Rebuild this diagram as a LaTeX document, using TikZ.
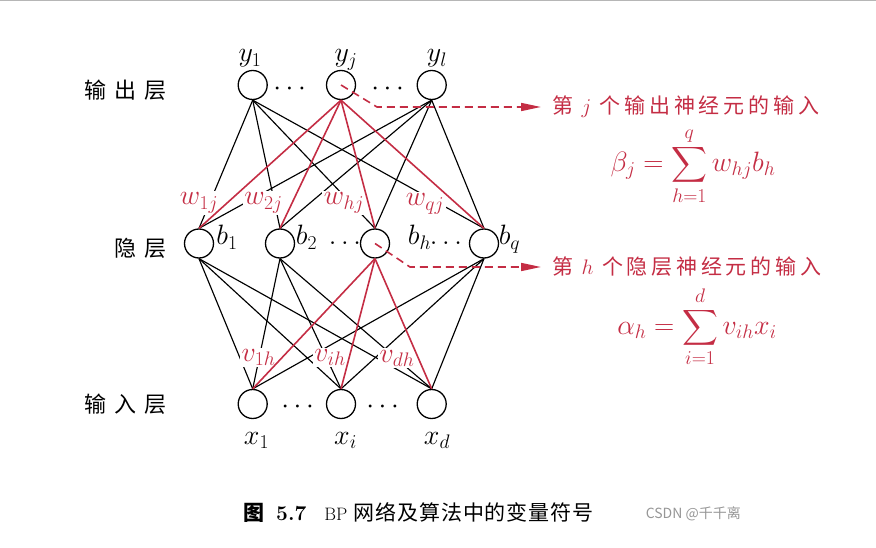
\RequirePackage{fix-cm}
\documentclass[tikz,border=0pt]{standalone}
\usepackage{fontspec}
\usepackage{amsmath}
\usetikzlibrary{positioning,arrows.meta}
\newfontfamily\cjk{Noto Sans CJK SC}
\definecolor{bpred}{RGB}{196,45,68}
\definecolor{mark}{RGB}{150,150,150}
\begin{document}
\begin{tikzpicture}[x=1pt,y=-1pt,font=\fontsize{28}{32}\selectfont,
    neuron/.style={circle,draw,line width=1.3pt,minimum size=29pt,inner sep=0pt},
    link/.style={line width=1.15pt},
    hot/.style={bpred,line width=1.6pt},
    wlab/.style={fill=white,text=bpred,inner sep=1.5pt,anchor=base},
    sym/.style={anchor=base,inner sep=0pt},
    flow/.style={bpred,line width=1.6pt,dash pattern=on 8pt off 5pt,-{Triangle[length=20pt,width=8pt]}},
    note/.style={text=bpred,anchor=west,inner xsep=11pt,inner ysep=0pt,font=\cjk\fontsize{21}{24}\selectfont\addfontfeature{LetterSpace=18}},
    formula/.style={text=bpred,inner sep=0pt},
    layer/.style={anchor=east,inner sep=0pt,font=\cjk\fontsize{22}{26}\selectfont\addfontfeature{LetterSpace=38}}]
\useasboundingbox (0,0) rectangle (876,548);
\draw[mark!70,line width=2pt] (0,0) -- (876,0);
\node[neuron] (y1) at (252.7,85) {};
\node[neuron] (yj) at (341,85) {};
\node[neuron] (yl) at (431.7,85) {};
\node[neuron] (b1) at (199,243.5) {};
\node[neuron] (b2) at (280,243.5) {};
\node[neuron] (bh) at (375,243.5) {};
\node[neuron] (bq) at (484,243.5) {};
\node[neuron] (x1) at (252.7,404) {};
\node[neuron] (xi) at (341,404) {};
\node[neuron] (xd) at (431.7,404) {};
\node[sym] (ly1) at (250,62) {$y_1$};
\node[sym] (lyj) at (346,62) {$y_j$};
\node[sym] (lyl) at (437,62) {$y_l$};
\node[sym] (lx1) at (256.5,444) {$x_1$};
\node[sym] (lxi) at (345.5,444) {$x_i$};
\node[sym] (lxd) at (437,444) {$x_d$};
\node[sym] (lb1) at (227,245) {$b_1$};
\node[sym] (lb2) at (306.5,245) {$b_2$};
\node[sym] (lbh) at (419.5,245) {$b_h$};
\node[sym] (lbq) at (509.5,245) {$b_q$};
\node[sym] (dy1) at (292,96) {$\cdots$};
\node[sym] (dy2) at (390,96) {$\cdots$};
\node[sym] (dx1) at (300,413) {$\cdots$};
\node[sym] (dx2) at (385,413) {$\cdots$};
\node[sym] (db1) at (345,245) {$\ldots$};
\node[sym] (db2) at (446,245) {$\ldots$};
\foreach \o in {y1,yl}
  \foreach \h in {b1,b2,bh,bq}
    \draw[link] (\o.south) -- (\h.north);
\foreach \h in {b1,b2,bq}
  \foreach \i in {x1,xi,xd}
    \draw[link] (\h.south) -- (\i.north);
\node[wlab] (w1j) at (199,205) {$w_{1j}$};
\node[wlab] (w2j) at (263.5,205) {$w_{2j}$};
\node[wlab] (whj) at (344,205) {$w_{hj}$};
\node[wlab] (wqj) at (425,206) {$w_{qj}$};
\node[wlab] (v1h) at (258.5,361.5) {$v_{1h}$};
\node[wlab] (vih) at (330,361.5) {$v_{ih}$};
\node[wlab] (vdh) at (397,362) {$v_{dh}$};
\foreach \h in {b1,b2,bh,bq}
  \draw[hot] (yj.south) -- (\h.north);
\foreach \i in {x1,xi,xd}
  \draw[hot] (bh.south) -- (\i.north);
\node[note] (jtxt) at (541,107) {第 $j$ 个输出神经元的输入};
\node[note] (htxt) at (541,267) {第 $h$ 个隐层神经元的输入};
\coordinate (jbend) at (377,107);
\coordinate (hbend) at (410,267);
\draw[flow] (yj.center) -- (jbend) -- (jtxt.west);
\draw[flow] (bh.center) -- (hbend) -- (htxt.west);
\node[formula] (beta) at (693,166) {$\displaystyle \beta_j=\sum_{h=1}^{q}w_{hj}b_h$};
\node[formula] (alpha) at (697,327) {$\displaystyle \alpha_h=\sum_{i=1}^{d}v_{ih}x_i$};
\node[layer] (lout) at (167,90) {输出层};
\node[layer] (lhid) at (167,248) {隐层};
\node[layer] (lin) at (167,404) {输入层};
\node[anchor=west,inner sep=0pt,font=\fontsize{21}{24}\selectfont] (cap) at (243,513)
  {{\cjk\bfseries 图}\hspace{12pt}\textbf{5.7}\hspace{18pt}{\fontsize{18}{22}\selectfont BP} {\cjk\addfontfeature{LetterSpace=4}网络及算法中的变量符号}};
\node[anchor=east,inner sep=0pt,text=mark,font=\cjk\fontsize{14}{16}\selectfont] (csdn) at (741,514) {CSDN @千千离};
\end{tikzpicture}
\end{document}
